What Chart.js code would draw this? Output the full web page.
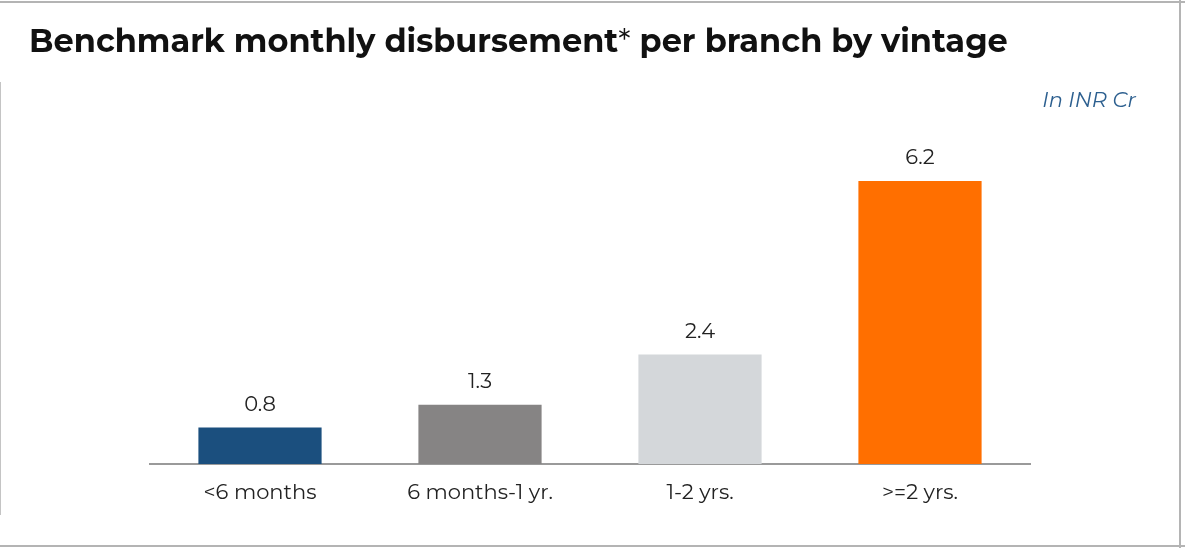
<!DOCTYPE html>
<html>
<head>
<meta charset="utf-8">
<script src="https://cdn.jsdelivr.net/npm/chart.js@4.4.0/dist/chart.umd.min.js"></script>
<style>
  html, body { margin:0; padding:0; background:#fff; }
  .panel { position:relative; width:1185px; height:548px; overflow:hidden; font-family:Montserrat, Inter, "Noto Sans", sans-serif; }
  .edge { position:absolute; background:#b4b4b4; }
  .edge-top { left:0; top:1px; width:1185px; height:2px; }
  .edge-right { left:1179px; top:0; width:2px; height:548px; }
  .edge-bottom { left:0; top:545px; width:1185px; height:2px; }
  .edge-left { left:0; top:82px; width:1px; height:433px; background:#c4c4c4; }
  .title { position:absolute; left:29px; top:22px; font-size:32px; font-weight:700; color:#111; white-space:nowrap; line-height:38px; }
  .title .star { font-weight:400; }
  .unit { position:absolute; right:49px; top:87px; font-size:21px; font-style:italic; color:#2c5f8f; line-height:26px; }
  canvas { position:absolute; left:0; top:0; }
</style>
</head>
<body>
<div class="panel">
  <canvas id="chart" width="1185" height="548"></canvas>
  <div class="edge edge-top"></div>
  <div class="edge edge-right"></div>
  <div class="edge edge-bottom"></div>
  <div class="edge edge-left"></div>
  <div class="title">Benchmark monthly disbursement<span class="star">*</span> per branch by vintage</div>
  <div class="unit">In INR Cr</div>
</div>
<script>
  // Vintage buckets and benchmark disbursement (INR Cr)
  const categories = ['<6 months', '6 months-1 yr.', '1-2 yrs.', '>=2 yrs.'];
  const values = [0.8, 1.3, 2.4, 6.2];
  const barColors = ['#1b4f7e', '#868484', '#d4d7da', '#ff6f00'];

  const FONT = 'Montserrat, Inter, "Noto Sans", sans-serif';

  // value labels above each bar
  const valueLabels = {
    id: 'valueLabels',
    afterDatasetsDraw(chart){
      const ctx = chart.ctx;
      const meta = chart.getDatasetMeta(0);
      ctx.save();
      ctx.font = `21px ${FONT}`;
      ctx.fillStyle = '#222';
      ctx.textAlign = 'center';
      ctx.textBaseline = 'middle';
      meta.data.forEach((bar, i) => {
        ctx.fillText(values[i].toFixed(1), bar.x, bar.y - 23);
      });
      ctx.restore();
    }
  };

  new Chart(document.getElementById('chart'), {
    type: 'bar',
    data: {
      labels: categories,
      datasets: [{
        data: values,
        backgroundColor: barColors,
        borderWidth: 0,
        barPercentage: 0.56,
        categoryPercentage: 1
      }]
    },
    options: {
      responsive: false,
      animation: false,
      layout: { padding: { left: 150, right: 155, top: 144.5, bottom: 24 } },
      plugins: { legend: { display: false }, tooltip: { enabled: false } },
      scales: {
        x: {
          grid: { display: false, drawTicks: false },
          border: { display: true, color: '#9a9a9a', width: 2 },
          ticks: { color: '#222', font: { family: FONT, size: 21 }, padding: 16, maxRotation: 0 },
          afterFit(scale){ scale.height = 60; }
        },
        y: {
          display: false,
          min: 0,
          max: 7
        }
      }
    },
    plugins: [valueLabels]
  });
</script>
</body>
</html>
